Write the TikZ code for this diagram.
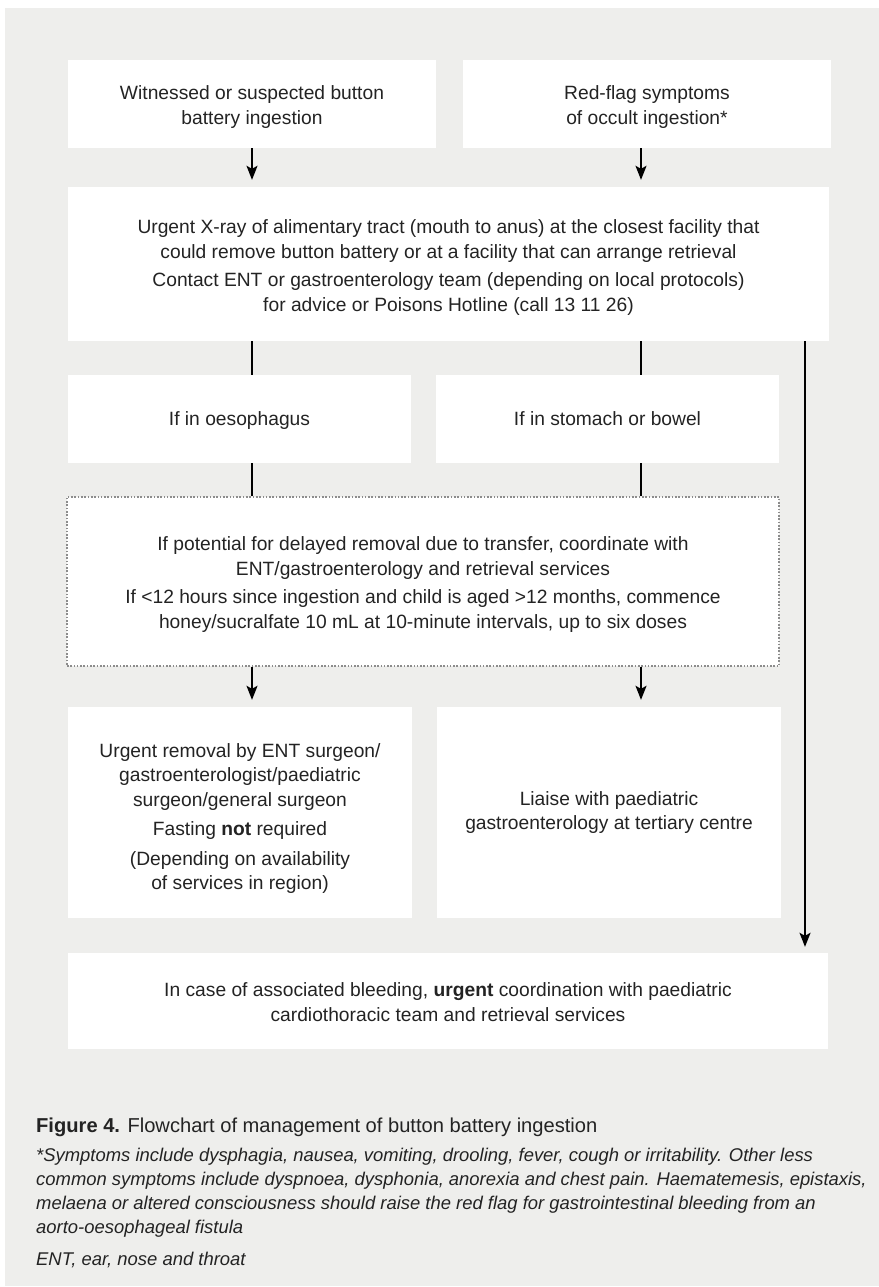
\documentclass[tikz,border=0pt]{standalone}
\usepackage{fontspec}
\setmainfont{Liberation Sans}
\usetikzlibrary{arrows.meta}
\definecolor{bggray}{RGB}{238,238,236}
\definecolor{txt}{RGB}{35,35,35}
\definecolor{dotc}{RGB}{140,140,140}
\newcommand\bodyfont{\fontsize{19.3}{24.6}\selectfont}
\newcommand\capfont{\fontsize{18.5}{24}\selectfont}
\newcommand\capone{\fontsize{20.2}{24}\selectfont}
\newcommand\lift[1]{\rule{0pt}{#1bp}}
\tikzset{
  box/.style={fill=white, draw=none, inner sep=0pt, align=center, text=txt, font=\bodyfont},
  dotbox/.style={box, draw=dotc, line width=1.6bp, dash pattern=on 1.6bp off 1.7bp},
  conn/.style={line width=1.8bp, black},
  arr/.style={conn, -{Stealth[length=14bp, width=11bp, inset=3bp]}},
  captext/.style={anchor=west, inner sep=0pt, align=left, text=txt, font=\capfont}
}
\begin{document}
\begin{tikzpicture}[x=1bp, y=-1bp]
\useasboundingbox (0,0) rectangle (879,1287);
\fill[white] (0,0) rectangle (879,1287);
\fill[bggray] (5,8) rectangle (879,1286);
\coordinate (colL) at (252,0);
\coordinate (colR) at (641,0);
\coordinate (colX) at (805,0);
% boxes
\node[box, minimum width=368bp, minimum height=88bp] (b1) at (252,104)
  {\lift{20}Witnessed or suspected button\\battery ingestion};
\node[box, minimum width=368bp, minimum height=88bp] (b2) at (647,104)
  {\lift{20}Red-flag symptoms\\of occult ingestion*};
\node[box, minimum width=761bp, minimum height=154bp] (b3) at (448.5,264)
  {\lift{21}Urgent X-ray of alimentary tract (mouth to anus) at the closest facility that\\
   could remove button battery or at a facility that can arrange retrieval\\[4bp]
   Contact ENT or gastroenterology team (depending on local protocols)\\
   for advice or Poisons Hotline (call 13 11 26)};
\node[box, minimum width=343bp, minimum height=88bp] (b4) at (239.5,419)
  {\rule[-6bp]{0pt}{24bp}If in oesophagus};
\node[box, minimum width=343bp, minimum height=88bp] (b5) at (607.5,419)
  {\rule[-6bp]{0pt}{24bp}If in stomach or bowel};
\node[dotbox, minimum width=712bp, minimum height=169bp] (b6) at (423,581.5)
  {\lift{20}If potential for delayed removal due to transfer, coordinate with\\
   ENT/gastroenterology and retrieval services\\[4bp]
   If <12 hours since ingestion and child is aged >12 months, commence\\
   honey/sucralfate 10 mL at 10-minute intervals, up to six doses};
\node[box, minimum width=344bp, minimum height=211bp] (b7) at (240,812.5)
  {\lift{26}Urgent removal by ENT surgeon/\\gastroenterologist/paediatric\\surgeon/general surgeon\\[5bp]
   Fasting \textbf{not} required\\[5bp]
   (Depending on availability\\of services in region)};
\node[box, minimum width=344bp, minimum height=211bp] (b8) at (609,812.5)
  {Liaise with paediatric\\gastroenterology at tertiary centre};
\node[box, minimum width=760bp, minimum height=96bp] (b9) at (448,1001)
  {\lift{16}In case of associated bleeding, \textbf{urgent} coordination with paediatric\\
   cardiothoracic team and retrieval services};
% connectors
\draw[arr, shorten >=7bp] (b1.south -| colL) -- (b3.north -| colL);
\draw[arr, shorten >=7bp] (b2.south -| colR) -- (b3.north -| colR);
\draw[conn] (b3.south -| colL) -- (b4.north -| colL);
\draw[conn] (b3.south -| colR) -- (b5.north -| colR);
\draw[conn] (b4.south -| colL) -- (b6.north -| colL);
\draw[conn] (b5.south -| colR) -- (b6.north -| colR);
\draw[arr, shorten >=7bp] (b6.south -| colL) -- (b7.north -| colL);
\draw[arr, shorten >=7bp] (b6.south -| colR) -- (b8.north -| colR);
\draw[arr, shorten >=6bp] (b3.south -| colX) -- (b9.north -| colX);
% caption
\node[captext, font=\capone] (c1) at (36,1127) {\textbf{Figure 4.} Flowchart of management of button battery ingestion};
\node[captext, font=\capfont\itshape] (c2) at (36,1193)
  {*Symptoms include dysphagia, nausea, vomiting, drooling, fever, cough or irritability. Other less\\
   common symptoms include dyspnoea, dysphonia, anorexia and chest pain. Haematemesis, epistaxis,\\
   melaena or altered consciousness should raise the red flag for gastrointestinal bleeding from an\\
   aorto-oesophageal fistula};
\node[captext, font=\capfont\itshape] (c3) at (36,1260) {ENT, ear, nose and throat};
\end{tikzpicture}
\end{document}
